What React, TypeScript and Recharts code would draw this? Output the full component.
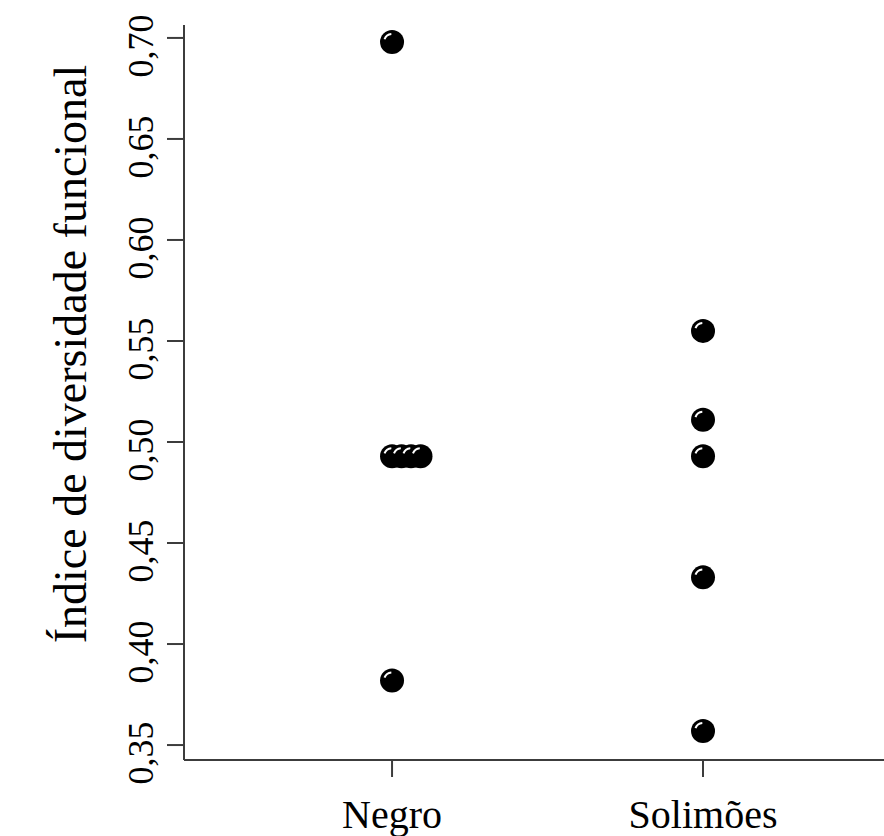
import { ScatterChart, Scatter, XAxis, YAxis } from 'recharts';

const categories = ['Negro', 'Solimões'];
const negroValues = [0.698, 0.493, 0.493, 0.493, 0.493, 0.382];
const solimoesValues = [0.555, 0.511, 0.493, 0.433, 0.357];
const yTicks = [0.35, 0.4, 0.45, 0.5, 0.55, 0.6, 0.65, 0.7];

// stripchart "stack": repeated values are shifted right of the group position
const STACK_STEP = 0.0305;

function stackPoints(values: number[], group: number) {
  const seen: Record<string, number> = {};
  return values.map((v) => {
    const key = v.toFixed(3);
    const k = seen[key] ?? 0;
    seen[key] = k + 1;
    return { x: group + k * STACK_STEP, y: v };
  });
}

const points = [
  ...stackPoints(negroValues, 1),
  ...stackPoints(solimoesValues, 2),
];

const FONT = '"Liberation Serif", "Times New Roman", serif';
const AXIS = '#3c3c3c';

const Dot = (props: any) => {
  const { cx, cy } = props;
  if (cx == null || cy == null) return null;
  const r = 12;
  const hr = 8;
  const a1 = (200 * Math.PI) / 180;
  const a2 = (265 * Math.PI) / 180;
  const p1 = [cx + hr * Math.cos(a1), cy + hr * Math.sin(a1)];
  const p2 = [cx + hr * Math.cos(a2), cy + hr * Math.sin(a2)];
  return (
    <g>
      <circle cx={cx} cy={cy} r={r} fill="#000" />
      <path
        d={`M${p1[0]},${p1[1]} A${hr},${hr} 0 0 1 ${p2[0]},${p2[1]}`}
        fill="none"
        stroke="#fff"
        strokeWidth={2}
      />
    </g>
  );
};

const XTick = (props: any) => {
  const { x, y, payload } = props;
  return (
    <text x={x} y={y} dy={49} textAnchor="middle" fontFamily={FONT} fontSize={40} fill="#000">
      {categories[Math.round(payload.value) - 1]}
    </text>
  );
};

const YTick = (props: any) => {
  const { x, y, payload } = props;
  const tx = x - 12;
  const ty = y + 8;
  return (
    <text
      x={tx}
      y={ty}
      transform={`rotate(-90, ${tx}, ${ty})`}
      textAnchor="middle"
      fontFamily={FONT}
      fontSize={36}
      fill="#000"
    >
      {payload.value.toFixed(2).replace('.', ',')}
    </text>
  );
};

const YTitle = () => (
  <text
    x={86}
    y={354}
    transform="rotate(-90, 86, 354)"
    textAnchor="middle"
    fontFamily={FONT}
    fontSize={46}
    fill="#000"
  >
    Índice de diversidade funcional
  </text>
);

export default function App() {
  return (
    <div style={{ position: 'absolute', left: 0, top: 0, background: '#fff' }}>
      <ScatterChart width={884} height={836} margin={{ top: 25, right: 0, bottom: 0, left: 0 }}>
        <XAxis
          type="number"
          dataKey="x"
          domain={[0.331, 2.582]}
          ticks={[1, 2]}
          height={76}
          tickSize={17}
          tick={<XTick />}
          axisLine={{ stroke: AXIS, strokeWidth: 2 }}
          tickLine={{ stroke: AXIS, strokeWidth: 2 }}
          allowDataOverflow
        />
        <YAxis
          type="number"
          dataKey="y"
          domain={[0.3426, 0.7064]}
          ticks={yTicks}
          width={184}
          tickSize={17}
          tick={<YTick />}
          axisLine={{ stroke: AXIS, strokeWidth: 2 }}
          tickLine={{ stroke: AXIS, strokeWidth: 2 }}
          label={{ content: () => <YTitle /> }}
          allowDataOverflow
        />
        <Scatter data={points} shape={<Dot />} isAnimationActive={false} />
      </ScatterChart>
    </div>
  );
}
